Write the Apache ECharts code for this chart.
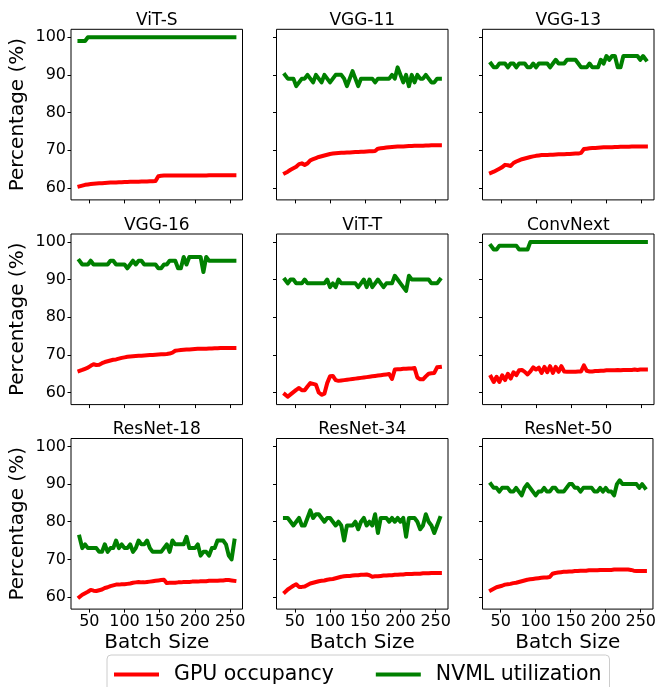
<!DOCTYPE html>
<html>
<head>
<meta charset="utf-8">
<script src="https://cdn.jsdelivr.net/npm/echarts@6/dist/echarts.min.js"></script>
<style>
  html, body { margin: 0; padding: 0; background: #fff; }
  #chart { width: 659px; height: 687px; }
</style>
</head>
<body>
<div id="chart"></div>
<script>
const batchSizes = [36, 40, 44, 48, 52, 56, 60, 64, 68, 72, 76, 80, 84, 88, 92, 96, 100, 104, 108, 112,
  116, 120, 124, 128, 132, 136, 140, 144, 148, 152, 156, 160, 164, 168, 172, 176, 180, 184, 188, 192,
  196, 200, 204, 208, 212, 216, 220, 224, 228, 232, 236, 240, 244, 248, 252, 256]

const models = ['ViT-S', 'VGG-11', 'VGG-13', 'VGG-16', 'ViT-T', 'ConvNext', 'ResNet-18', 'ResNet-34', 'ResNet-50']
const xTicks = [50, 100, 150, 200, 250]
const yTicks = [60, 70, 80, 90, 100]

// GPU occupancy (red) / NVML utilization (green), one pair per model
const vitS_gpu = [60.4, 60.6, 60.8, 60.9, 61.0, 61.1, 61.15, 61.2, 61.25, 61.3, 61.35, 61.4, 61.4, 61.45, 61.5, 61.5, 61.55, 61.55, 61.6, 61.6,
  61.65, 61.65, 61.7, 61.7, 61.7, 61.75, 61.75, 61.8, 63.1, 63.2, 63.25, 63.25, 63.25, 63.3, 63.3, 63.3, 63.3, 63.3, 63.3, 63.3,
  63.3, 63.3, 63.3, 63.3, 63.3, 63.3, 63.35, 63.35, 63.35, 63.35, 63.35, 63.35, 63.35, 63.35, 63.35, 63.35]
const vitS_nvml = [99, 99, 99, 100, 100, 100, 100, 100, 100, 100, 100, 100, 100, 100, 100, 100, 100, 100, 100, 100,
  100, 100, 100, 100, 100, 100, 100, 100, 100, 100, 100, 100, 100, 100, 100, 100, 100, 100, 100, 100,
  100, 100, 100, 100, 100, 100, 100, 100, 100, 100, 100, 100, 100, 100, 100, 100]

const vgg11_gpu = [63.9, 64.3, 64.8, 65.2, 65.6, 66.3, 66.5, 66.1, 66.5, 67.3, 67.6, 67.9, 68.2, 68.4, 68.6, 68.8, 69.0, 69.1, 69.2, 69.25,
  69.3, 69.35, 69.4, 69.4, 69.45, 69.5, 69.55, 69.6, 69.6, 69.65, 69.7, 69.75, 69.8, 70.4, 70.5, 70.6, 70.7, 70.8, 70.85, 70.9,
  70.95, 71.0, 71.0, 71.05, 71.1, 71.1, 71.15, 71.2, 71.2, 71.2, 71.25, 71.25, 71.3, 71.3, 71.3, 71.3]
const vgg11_nvml = [90, 89, 89, 89, 87, 88, 89, 89, 90, 89, 88, 90, 89, 88, 90, 89, 88, 89, 90, 90,
  90, 89, 87, 89, 91, 89, 87, 89, 89, 89, 89, 89, 88, 89, 89, 89, 89, 89, 90, 89,
  92, 90, 88, 90, 87, 90, 88, 90, 89, 89, 90, 89, 88, 88, 89, 89]

const vgg13_gpu = [64.0, 64.3, 64.7, 65.1, 65.5, 66.1, 66.0, 65.8, 66.6, 67.0, 67.3, 67.6, 67.8, 68.0, 68.2, 68.35, 68.5, 68.6, 68.7, 68.7,
  68.75, 68.8, 68.8, 68.85, 68.9, 68.9, 68.95, 69.0, 69.0, 69.05, 69.1, 69.1, 69.3, 70.3, 70.4, 70.5, 70.55, 70.6, 70.65, 70.7,
  70.75, 70.75, 70.8, 70.8, 70.85, 70.85, 70.9, 70.9, 70.9, 70.9, 70.95, 70.95, 70.95, 70.95, 70.95, 70.95]
const vgg13_nvml = [93, 92, 92, 93, 93, 93, 92, 93, 93, 92, 93, 93, 93, 92, 92, 93, 92, 93, 93, 93,
  93, 92, 93, 94, 93, 93, 93, 94, 94, 94, 94, 93, 92, 92, 92, 93, 92, 92, 92, 94,
  93, 95, 94, 95, 95, 92, 92, 95, 95, 95, 95, 95, 95, 94, 95, 94]

const vgg16_gpu = [65.75, 66.0, 66.3, 66.6, 67.1, 67.5, 67.3, 67.4, 67.8, 68.1, 68.3, 68.5, 68.7, 68.8, 69.0, 69.2, 69.35, 69.5, 69.6, 69.65,
  69.7, 69.75, 69.8, 69.85, 69.9, 69.95, 70.0, 70.05, 70.1, 70.15, 70.2, 70.25, 70.35, 70.6, 71.1, 71.2, 71.3, 71.35, 71.4, 71.45,
  71.5, 71.55, 71.6, 71.6, 71.65, 71.65, 71.7, 71.7, 71.75, 71.75, 71.8, 71.8, 71.8, 71.85, 71.85, 71.85]
const vgg16_nvml = [95, 94, 94, 94, 95, 94, 94, 94, 94, 94, 94, 95, 95, 94, 94, 94, 94, 93, 94, 95,
  94, 95, 95, 94, 94, 94, 94, 94, 93, 93, 94, 94, 95, 95, 95, 93, 93, 96, 94, 96,
  96, 96, 96, 96, 92, 96, 95, 95, 95, 95, 95, 95, 95, 95, 95, 95]

const vitT_gpu = [59.5, 58.9, 59.5, 60.1, 60.7, 61.2, 60.6, 60.6, 61.6, 62.5, 62.3, 62.1, 60.0, 59.4, 59.7, 62.5, 64.3, 64.4, 63.3, 63.1,
  63.2, 63.3, 63.4, 63.5, 63.6, 63.7, 63.8, 63.9, 64.0, 64.1, 64.2, 64.3, 64.4, 64.5, 64.6, 64.7, 64.8, 64.9, 63.6, 66.1,
  66.2, 66.2, 66.3, 66.3, 66.4, 66.4, 66.5, 64.0, 63.5, 63.5, 64.3, 65.0, 65.1, 65.2, 66.7, 66.8]
const vitT_nvml = [90, 89, 90, 90, 89, 89, 89, 90, 89, 89, 89, 89, 89, 89, 89, 90, 88, 89, 88, 90,
  89, 89, 89, 89, 89, 89, 88, 89, 90, 88, 90, 88, 89, 90, 89, 88, 89, 89, 89, 91,
  90, 89, 88, 87, 91, 90, 90, 90, 90, 90, 90, 90, 89, 89, 89, 90]

const convNext_gpu = [64.2, 62.8, 64.2, 62.8, 64.6, 63.3, 65.0, 63.7, 65.4, 64.6, 65.9, 66.0, 65.5, 64.8, 65.6, 66.7, 66.1, 66.6, 65.2, 66.8,
  65.4, 67.0, 65.2, 66.8, 65.5, 67.0, 65.6, 65.5, 65.5, 65.5, 65.5, 65.6, 65.6, 67.2, 65.8, 65.6, 65.6, 65.7, 65.7, 65.8,
  65.8, 65.9, 65.9, 65.9, 65.9, 66.0, 65.9, 66.0, 66.0, 66.0, 66.0, 66.1, 66.0, 66.1, 66.1, 66.1]
const convNext_nvml = [99, 98, 98, 99, 99, 99, 99, 99, 99, 99, 98, 98, 98, 98, 100, 100, 100, 100, 100, 100,
  100, 100, 100, 100, 100, 100, 100, 100, 100, 100, 100, 100, 100, 100, 100, 100, 100, 100, 100, 100,
  100, 100, 100, 100, 100, 100, 100, 100, 100, 100, 100, 100, 100, 100, 100, 100]

const resnet18_gpu = [60.0, 60.6, 61.0, 61.4, 61.9, 61.7, 61.6, 61.8, 62.0, 62.4, 62.6, 62.9, 63.1, 63.3, 63.3, 63.4, 63.4, 63.5, 63.6, 63.8,
  63.9, 64.0, 63.9, 63.9, 64.0, 64.1, 64.2, 64.3, 64.4, 64.5, 64.6, 63.7, 63.8, 63.8, 63.8, 63.9, 63.9, 64.0, 64.0, 64.0,
  64.1, 64.1, 64.1, 64.2, 64.2, 64.2, 64.3, 64.3, 64.3, 64.3, 64.4, 64.4, 64.5, 64.5, 64.4, 64.3]
const resnet18_nvml = [76, 73, 74, 73, 73, 73, 73, 72, 72, 74, 72, 73, 73, 75, 73, 74, 73, 73, 74, 72,
  73, 75, 74, 74, 75, 73, 72, 72, 72, 72, 73, 74, 72, 75, 74, 74, 74, 74, 76, 73,
  73, 73, 74, 71, 72, 72, 71, 73, 73, 75, 75, 75, 74, 71, 70, 75]

const resnet34_gpu = [61.3, 62.0, 62.5, 63.0, 63.4, 62.7, 62.7, 62.8, 63.2, 63.6, 63.8, 64.0, 64.2, 64.3, 64.4, 64.6, 64.7, 64.8, 65.0, 65.2,
  65.4, 65.5, 65.6, 65.6, 65.7, 65.8, 65.8, 65.9, 65.9, 66.0, 65.8, 65.4, 65.5, 65.5, 65.6, 65.7, 65.7, 65.8, 65.8, 65.9,
  65.9, 66.0, 66.0, 66.1, 66.1, 66.1, 66.2, 66.2, 66.2, 66.3, 66.3, 66.3, 66.4, 66.4, 66.4, 66.4]
const resnet34_nvml = [81, 81, 80, 79, 80, 81, 79, 79, 81, 83, 81, 82, 82, 81, 80, 81, 81, 80, 79, 80,
  79, 75, 79, 79, 79, 80, 78, 80, 81, 79, 80, 79, 82, 77, 81, 81, 81, 80, 81, 80,
  81, 80, 81, 76, 81, 81, 81, 80, 78, 79, 82, 80, 79, 77, 79, 81]

const resnet50_gpu = [61.8, 62.2, 62.6, 62.8, 63.0, 63.3, 63.4, 63.5, 63.7, 63.8, 64.0, 64.2, 64.4, 64.6, 64.7, 64.8, 64.9, 65.0, 65.1, 65.2,
  65.2, 65.3, 66.2, 66.4, 66.5, 66.6, 66.7, 66.7, 66.8, 66.8, 66.9, 66.9, 67.0, 67.0, 67.0, 67.1, 67.1, 67.1, 67.1, 67.2,
  67.2, 67.2, 67.2, 67.2, 67.3, 67.3, 67.3, 67.3, 67.3, 67.3, 67.2, 67.0, 66.9, 66.9, 66.9, 66.9]
const resnet50_nvml = [90, 89, 89, 88, 89, 89, 89, 88, 88, 89, 88, 87, 89, 90, 89, 88, 87, 88, 88, 89,
  88, 88, 89, 89, 88, 88, 88, 89, 90, 90, 89, 89, 88, 89, 89, 89, 89, 88, 88, 89,
  88, 89, 88, 88, 87, 90, 91, 90, 90, 90, 90, 90, 90, 89, 90, 89]

const gpuSeries = [vitS_gpu, vgg11_gpu, vgg13_gpu, vgg16_gpu, vitT_gpu, convNext_gpu, resnet18_gpu, resnet34_gpu, resnet50_gpu]
const nvmlSeries = [vitS_nvml, vgg11_nvml, vgg13_nvml, vgg16_nvml, vitT_nvml, convNext_nvml, resnet18_nvml, resnet34_nvml, resnet50_nvml]

const colLeft = [71, 276.5, 482.5]
const rowTop = [29.3, 234, 438.5]
const plotW = 171.5
const plotH = 170.6

const zip = (vals) => batchSizes.map((b, i) => [b, vals[i]])

const grids = [], xAxes = [], yAxes = [], titles = [], series = []

models.forEach((name, i) => {
  const r = Math.floor(i / 3)
  const c = i % 3
  grids.push({
    left: colLeft[c], top: rowTop[r], width: plotW, height: plotH,
    show: true, borderColor: '#000', borderWidth: 1, backgroundColor: 'transparent'
  })
  titles.push({
    text: name,
    left: colLeft[c] + plotW / 2,
    top: rowTop[r] - 17,
    textAlign: 'center',
    padding: 0,
    textStyle: { fontSize: 17, fontWeight: 'normal', color: '#000', fontFamily: 'DejaVu Sans' }
  })
  xAxes.push({
    type: 'value', gridIndex: i, min: 24, max: 267.5,
    axisLine: { show: false },
    splitLine: { show: false },
    axisTick: { show: true, length: 3.5, lineStyle: { color: '#000' }, customValues: xTicks },
    axisLabel: { show: r === 2, fontSize: 16, color: '#000', margin: 5, customValues: xTicks },
    name: r === 2 ? 'Batch Size' : '',
    nameLocation: 'middle', nameGap: 24,
    nameTextStyle: { fontSize: 20, color: '#000' }
  })
  yAxes.push({
    type: 'value', gridIndex: i, min: 56.8, max: 102.1,
    axisLine: { show: false },
    splitLine: { show: false },
    axisTick: { show: true, length: 3.5, lineStyle: { color: '#000' }, customValues: yTicks },
    axisLabel: { show: c === 0, fontSize: 16, color: '#000', margin: 5, customValues: yTicks },
    name: c === 0 ? 'Percentage (%)' : '',
    nameLocation: 'middle', nameGap: 43,
    nameTextStyle: { fontSize: 20, color: '#000' }
  })
  series.push({
    name: 'GPU occupancy', type: 'line', xAxisIndex: i, yAxisIndex: i,
    data: zip(gpuSeries[i]), symbol: 'none', showSymbol: false,
    itemStyle: { color: '#ff0000' },
    lineStyle: { width: 4, color: '#ff0000', cap: 'square', join: 'round' }
  })
  series.push({
    name: 'NVML utilization', type: 'line', xAxisIndex: i, yAxisIndex: i,
    data: zip(nvmlSeries[i]), symbol: 'none', showSymbol: false,
    itemStyle: { color: '#008000' },
    lineStyle: { width: 4, color: '#008000', cap: 'square', join: 'round' }
  })
})

const myChart = echarts.init(document.getElementById('chart'))

const options = {
  animation: false,
  textStyle: { fontFamily: 'DejaVu Sans' },
  title: titles,
  grid: grids,
  xAxis: xAxes,
  yAxis: yAxes,
  legend: {
    data: ['GPU occupancy', 'NVML utilization'],
    left: 107, top: 655,
    padding: [9, 8, 8, 7],
    itemWidth: 45, itemHeight: 4, itemGap: 42,
    icon: 'rect',
    borderColor: '#cccccc', borderWidth: 1, borderRadius: 4,
    backgroundColor: '#fff',
    textStyle: { fontSize: 20.5, color: '#000', padding: [0, 0, 0, 10] }
  },
  series: series
}

myChart.setOption(options)
</script>
</body>
</html>
